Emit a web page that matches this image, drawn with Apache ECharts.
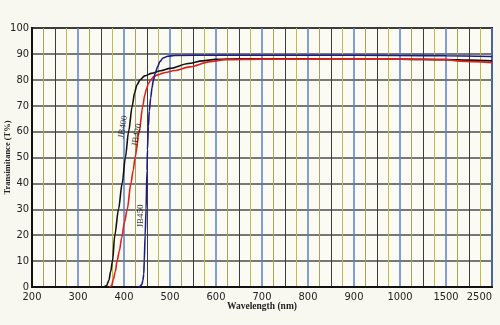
<!DOCTYPE html>
<html><head><meta charset="utf-8">
<script src="https://cdn.jsdelivr.net/npm/echarts@6/dist/echarts.min.js"></script>
<style>html,body{margin:0;padding:0;background:#f8f8f0;} #c{width:500px;height:325px;}</style>
</head><body><div id="c"></div>
<script>
// Axis tick labels (non-uniform wavelength axis, evenly spaced ticks)
const tickWavelengths = [200, 300, 400, 500, 600, 700, 800, 900, 1000, 1500, 2500];
const yTicks = [0, 10, 20, 30, 40, 50, 60, 70, 80, 90, 100];

// Series: [wavelength nm, transmittance %]
const jb400 = [[356,0],[362,0.5],[367,2.5],[371,6],[375,10],[380,20],[388,30],[396,40],[403,50],[410,60],[418,70],[423,75],[428,78],[435,80],[445,81.5],[460,82.5],[480,83.5],[500,84.4],[540,86.3],[570,87.3],[600,87.9],[650,88.1],[700,88.1],[800,88.1],[900,88.0],[1000,88.0],[1500,87.8],[2000,87.6],[2500,87.3]];
const jb420 = [[368,0],[373,0.5],[377,3],[381,6],[385,10],[390,14],[395,19],[401,25],[407,30],[415,40],[420,45],[424,50],[433,60],[441,70],[445,74],[449,76.5],[453,78.5],[458,80],[465,81.3],[475,82],[490,82.8],[510,83.6],[543,85],[587,87],[620,87.8],[700,88.0],[900,88.0],[1000,88.0],[1500,87.8],[1800,87.2],[2500,86.6]];
const jb450 = [[430,0],[435,0.3],[439,1],[441,2.5],[443,5],[444,10],[446,20],[448,30],[450,45],[451,53],[453,62],[455,68],[458,73],[461,77],[464,80],[468,82.5],[473,85],[478,87],[485,88.4],[495,89.1],[510,89.4],[600,89.5],[800,89.5],[1000,89.4],[1500,89.3],[2500,89.0]];
const seriesNames = ['JB400', 'JB420', 'JB450'];
// Curve name annotations: [wavelength nm, transmittance %]
const curveLabelPoints = [[398, 61.8], [428, 58.7], [437, 27.4]];

// map wavelength onto the evenly spaced tick scale
function toPos(w) {
  for (let i = 0; i < tickWavelengths.length - 1; i++) {
    const a = tickWavelengths[i], b = tickWavelengths[i + 1];
    if (w <= b) return i + (w - a) / (b - a);
  }
  return tickWavelengths.length - 1;
}
const conv = arr => arr.map(p => [toPos(p[0]), p[1]]);

const numFont = "'Liberation Sans Narrow', 'DejaVu Sans Condensed', 'Liberation Sans', sans-serif";
const serif = "'Liberation Serif', 'DejaVu Serif', serif";
const colors = ['#111111', '#e0201c', '#1c1c8c'];
const rotations = [80, 80, 90];

const chart = echarts.init(document.getElementById('c'));
const lineSeries = [jb400, jb420, jb450].map((d, i) => ({
  name: seriesNames[i], type: 'line', xAxisIndex: 0, data: conv(d),
  showSymbol: false, smooth: 0.3, smoothMonotone: 'x', z: 5,
  lineStyle: { color: colors[i], width: 1.6 }
}));
chart.setOption({
  animation: false,
  backgroundColor: '#f8f8f0',
  grid: { left: 32, right: 8, top: 28, bottom: 38, containLabel: false, outerBoundsMode: 'none',
    show: true, backgroundColor: '#fbfbf4', borderColor: '#111', borderWidth: 2 },
  xAxis: [
    { type: 'value', min: 0, max: tickWavelengths.length - 1, interval: 1, position: 'bottom',
      axisLine: { show: true, onZero: false, lineStyle: { color: '#111', width: 2 } },
      axisTick: { show: false },
      axisLabel: { formatter: v => String(tickWavelengths[Math.round(v)]), color: '#222', fontSize: 11,
        fontFamily: numFont, margin: 5, alignMaxLabel: 'right' },
      splitLine: { show: true, lineStyle: { color: '#5a7fd0', width: 1.5 } },
      name: 'Wavelength (nm)', nameLocation: 'middle', nameGap: 15, nameMoveOverlap: false,
      nameTextStyle: { fontFamily: serif, fontWeight: 'bold', fontSize: 9.5, color: '#222' } },
    { type: 'value', min: 0, max: tickWavelengths.length - 1, interval: 0.25, position: 'bottom',
      axisLine: { show: false }, axisTick: { show: false }, axisLabel: { show: false },
      splitLine: { show: true, lineStyle: { color: ['rgba(0,0,0,0)', '#a3a35c', '#3c3c3c', '#bcbc4a'], width: 1 } } }
  ],
  yAxis: { type: 'value', min: yTicks[0], max: yTicks[yTicks.length - 1], interval: 10,
    axisLine: { show: true, lineStyle: { color: '#111', width: 2 } }, axisTick: { show: false },
    axisLabel: { color: '#222', fontSize: 11, fontFamily: numFont, margin: 3, padding: [0, 0, 6, 0] },
    splitLine: { show: true, lineStyle: { color: '#4d4d4d', width: 1.5 } },
    name: 'Transimitance (T%)', nameLocation: 'middle', nameGap: 20, nameMoveOverlap: false,
    nameTextStyle: { fontFamily: serif, fontWeight: 'bold', fontSize: 8.5, color: '#222' } },
  series: lineSeries.concat([{
    type: 'scatter', xAxisIndex: 0, symbolSize: 0, z: 6, silent: true,
    data: curveLabelPoints.map((p, i) => ({ value: [toPos(p[0]), p[1]], name: seriesNames[i],
      label: { rotate: rotations[i] } })),
    label: { show: true, position: 'inside', formatter: p => p.name, color: '#000', fontFamily: serif, fontSize: 9 }
  }])
});
</script></body></html>
